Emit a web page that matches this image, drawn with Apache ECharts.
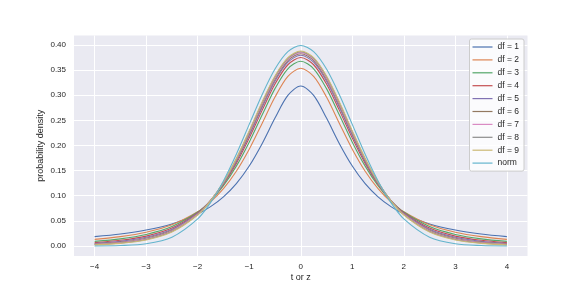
<!DOCTYPE html>
<html>
<head>
<meta charset="utf-8">
<script src="https://cdn.jsdelivr.net/npm/echarts@6/dist/echarts.min.js"></script>
<style>html,body{margin:0;padding:0;background:#fff}#c{width:586px;height:293px}</style>
</head>
<body>
<div id="c"></div>
<script>
const xs = [-4,-3.5,-3,-2.5,-2,-1.75,-1.5,-1.25,-1,-0.75,-0.5,-0.25,0,0.25,0.5,0.75,1,1.25,1.5,1.75,2,2.5,3,3.5,4];
const df1 = [0.0187,0.0240,0.0318,0.0439,0.0637,0.0784,0.0979,0.1242,0.1592,0.2037,0.2546,0.2996,0.3183,0.2996,0.2546,0.2037,0.1592,0.1242,0.0979,0.0784,0.0637,0.0439,0.0318,0.0240,0.0187];
const df2 = [0.0131,0.0186,0.0274,0.0422,0.0680,0.0878,0.1141,0.1487,0.1925,0.2438,0.2963,0.3376,0.3536,0.3376,0.2963,0.2438,0.1925,0.1487,0.1141,0.0878,0.0680,0.0422,0.0274,0.0186,0.0131];
const df3 = [0.0092,0.0142,0.0230,0.0387,0.0675,0.0900,0.1200,0.1589,0.2067,0.2606,0.3132,0.3527,0.3676,0.3527,0.3132,0.2606,0.2067,0.1589,0.1200,0.0900,0.0675,0.0387,0.0230,0.0142,0.0092];
const df4 = [0.0067,0.0113,0.0197,0.0357,0.0663,0.0905,0.1229,0.1644,0.2147,0.2699,0.3223,0.3607,0.3750,0.3607,0.3223,0.2699,0.2147,0.1644,0.1229,0.0905,0.0663,0.0357,0.0197,0.0113,0.0067];
const df5 = [0.0051,0.0092,0.0173,0.0333,0.0651,0.0905,0.1245,0.1679,0.2197,0.2757,0.3279,0.3657,0.3796,0.3657,0.3279,0.2757,0.2197,0.1679,0.1245,0.0905,0.0651,0.0333,0.0173,0.0092,0.0051];
const df6 = [0.0041,0.0078,0.0155,0.0315,0.0640,0.0904,0.1256,0.1703,0.2231,0.2797,0.3318,0.3691,0.3827,0.3691,0.3318,0.2797,0.2231,0.1703,0.1256,0.0904,0.0640,0.0315,0.0155,0.0078,0.0041];
const df7 = [0.0033,0.0067,0.0141,0.0300,0.0631,0.0901,0.1262,0.1719,0.2256,0.2825,0.3345,0.3715,0.3849,0.3715,0.3345,0.2825,0.2256,0.1719,0.1262,0.0901,0.0631,0.0300,0.0141,0.0067,0.0033];
const df8 = [0.0028,0.0059,0.0130,0.0288,0.0624,0.0899,0.1268,0.1733,0.2276,0.2848,0.3367,0.3734,0.3867,0.3734,0.3367,0.2848,0.2276,0.1733,0.1268,0.0899,0.0624,0.0288,0.0130,0.0059,0.0028];
const df9 = [0.0023,0.0053,0.0121,0.0278,0.0617,0.0897,0.1272,0.1743,0.2291,0.2866,0.3384,0.3748,0.3880,0.3748,0.3384,0.2866,0.2291,0.1743,0.1272,0.0897,0.0617,0.0278,0.0121,0.0053,0.0023];
const norm = [0.0001,0.0009,0.0044,0.0175,0.0540,0.0863,0.1295,0.1826,0.2420,0.3011,0.3521,0.3867,0.3989,0.3867,0.3521,0.3011,0.2420,0.1826,0.1295,0.0863,0.0540,0.0175,0.0044,0.0009,0.0001];

const seriesNames = ['df = 1','df = 2','df = 3','df = 4','df = 5','df = 6','df = 7','df = 8','df = 9','norm'];
const seriesValues = [df1, df2, df3, df4, df5, df6, df7, df8, df9, norm];
const colors = ['#4C72B0','#DD8452','#55A868','#C44E52','#8172B3','#937860','#DA8BC3','#8C8C8C','#CCB974','#64B5CD'];

const xTickValues = [-4,-3,-2,-1,0,1,2,3,4];
const xTickLabels = ['\u22124','\u22123','\u22122','\u22121','0','1','2','3','4'];
const yTickValues = [0,0.05,0.10,0.15,0.20,0.25,0.30,0.35,0.40];
const yTickLabels = ['0.00','0.05','0.10','0.15','0.20','0.25','0.30','0.35','0.40'];

const FONT = 'Liberation Sans, Arial, sans-serif';
const TXT = '#262626';

const chart = echarts.init(document.getElementById('c'), null, {renderer: 'canvas'});
chart.setOption({
  animation: false,
  backgroundColor: '#ffffff',
  color: colors,
  grid: {left: 74, right: 58.5, top: 35.5, bottom: 37, show: true, backgroundColor: '#EAEAF2', borderWidth: 0},
  xAxis: {
    type: 'value', min: -4.4, max: 4.4,
    name: 't or z', nameLocation: 'middle', nameGap: 17, nameMoveOverlap: false,
    nameTextStyle: {fontFamily: FONT, fontSize: 9, color: TXT},
    axisLine: {show: false}, axisTick: {show: false, customValues: xTickValues},
    axisLabel: {customValues: xTickValues, margin: 7, fontFamily: FONT, fontSize: 8, color: TXT,
      formatter: v => xTickLabels[xTickValues.indexOf(v)]},
    splitLine: {show: true, lineStyle: {color: '#ffffff', width: 1}}
  },
  yAxis: {
    type: 'value', min: -0.0199, max: 0.4189,
    name: 'probability density', nameLocation: 'middle', nameGap: 29, nameRotate: 90, nameMoveOverlap: false,
    nameTextStyle: {fontFamily: FONT, fontSize: 9, color: TXT},
    axisLine: {show: false}, axisTick: {show: false, customValues: yTickValues},
    axisLabel: {customValues: yTickValues, margin: 8, fontFamily: FONT, fontSize: 8, color: TXT,
      formatter: v => { const i = yTickValues.findIndex(t => Math.abs(t - v) < 1e-9); return i >= 0 ? yTickLabels[i] : ''; }},
    splitLine: {show: true, lineStyle: {color: '#ffffff', width: 1}}
  },
  legend: {
    orient: 'vertical', right: 62, top: 39,
    data: seriesNames.map(n => ({name: n, icon: 'rect'})),
    itemWidth: 20, itemHeight: 1.2, itemGap: 2.9,
    padding: [3, 5, 3, 3],
    backgroundColor: 'rgba(255,255,255,0.8)', borderColor: '#cccccc', borderWidth: 1, borderRadius: 2,
    textStyle: {fontFamily: FONT, fontSize: 8.5, color: TXT, lineHeight: 10}
  },
  series: seriesNames.map((n, i) => ({
    name: n, type: 'line', symbol: 'none', smooth: 0.3,
    lineStyle: {width: 1.1, color: colors[i]},
    itemStyle: {color: colors[i]},
    data: xs.map((x, j) => [x, seriesValues[i][j]])
  }))
});
</script>
</body>
</html>
